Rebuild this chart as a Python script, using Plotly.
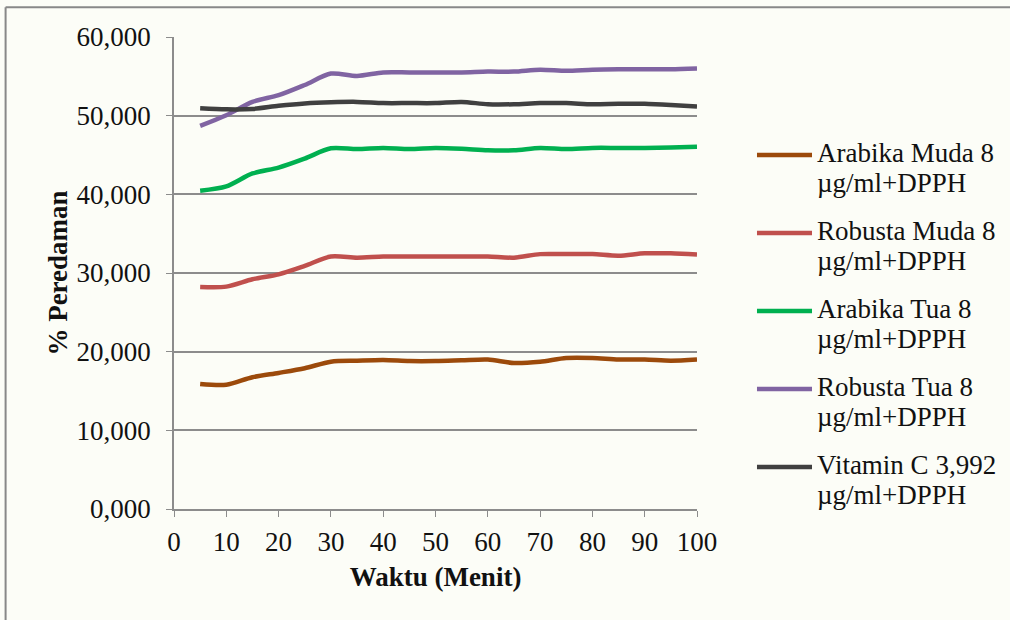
import plotly.graph_objects as go

# Time points (minutes)
waktu = [5, 10, 15, 20, 25, 30, 35, 40, 45, 50, 55, 60, 65, 70, 75, 80, 85, 90, 95, 100]

# % inhibition per sample
arabika_muda = [15.90, 15.80, 16.75, 17.30, 17.90, 18.73, 18.85, 18.94, 18.80, 18.80,
                18.90, 19.00, 18.56, 18.73, 19.20, 19.20, 19.00, 19.00, 18.85, 19.00]
robusta_muda = [28.23, 28.27, 29.20, 29.83, 30.90, 32.10, 31.95, 32.10, 32.10, 32.10,
                32.10, 32.10, 31.95, 32.40, 32.40, 32.40, 32.20, 32.50, 32.50, 32.35]
arabika_tua = [40.45, 41.00, 42.65, 43.40, 44.55, 45.85, 45.75, 45.90, 45.75, 45.90,
               45.80, 45.60, 45.60, 45.90, 45.75, 45.90, 45.90, 45.90, 45.95, 46.05]
robusta_tua = [48.70, 50.05, 51.75, 52.60, 53.90, 55.35, 55.05, 55.50, 55.50, 55.50,
               55.50, 55.60, 55.60, 55.85, 55.70, 55.85, 55.90, 55.90, 55.90, 56.00]
vitamin_c = [50.95, 50.80, 50.85, 51.25, 51.55, 51.70, 51.75, 51.60, 51.60, 51.60,
             51.75, 51.45, 51.45, 51.60, 51.60, 51.45, 51.50, 51.50, 51.35, 51.15]

series_names = [
    "Arabika Muda 8<br>µg/ml+DPPH",
    "Robusta Muda 8<br>µg/ml+DPPH",
    "Arabika Tua 8<br>µg/ml+DPPH",
    "Robusta Tua 8<br>µg/ml+DPPH",
    "Vitamin C 3,992<br>µg/ml+DPPH",
]
series_values = [arabika_muda, robusta_muda, arabika_tua, robusta_tua, vitamin_c]
series_colors = ["#9C4A0B", "#C0504D", "#00B050", "#8064A2", "#404040"]

x_ticks = [0, 10, 20, 30, 40, 50, 60, 70, 80, 90, 100]
y_ticks = [0, 10, 20, 30, 40, 50, 60]

FONT = "Liberation Serif, Times New Roman, serif"
FS = 27
BG = "#FCFDF7"
GRID = "#8C8C8C"
TEXT = "#111111"

fig = go.Figure()
for name, vals, col in zip(series_names, series_values, series_colors):
    fig.add_trace(go.Scatter(
        x=waktu, y=vals, name=name, mode="lines",
        line=dict(color=col, width=4.5, shape="spline", smoothing=0.8),
        showlegend=False,
    ))

# Legend at the right: colour sample line + two-line label
leg_top = 0.75
leg_step = 0.1653
line_gap = 0.0636
for i, (name, col) in enumerate(zip(series_names, series_colors)):
    yp = leg_top - i * leg_step
    fig.add_shape(type="line", xref="paper", yref="paper",
                  x0=1.1147, x1=1.2199, y0=yp, y1=yp,
                  line=dict(color=col, width=4.5))
    for j, part in enumerate(name.split("<br>")):
        fig.add_annotation(xref="paper", yref="paper", x=1.2256, y=yp + 0.004 - j * line_gap,
                           text=part, showarrow=False, xanchor="left", yanchor="middle",
                           align="left", font=dict(family=FONT, size=FS, color=TEXT))

# Outer frame (top and left edges)
fig.add_shape(type="line", xref="paper", yref="paper", x0=-0.322, x1=1.7,
              y0=1.063, y1=1.063, line=dict(color="#888888", width=2))
fig.add_shape(type="line", xref="paper", yref="paper", x0=-0.322, x1=-0.322,
              y0=1.063, y1=-0.3, line=dict(color="#888888", width=2))

fig.update_layout(
    width=1010, height=620,
    margin=dict(l=174, r=313, t=37, b=111),
    paper_bgcolor=BG, plot_bgcolor=BG,
    separators=",.",
    font=dict(family=FONT, size=FS, color=TEXT),
)

fig.update_xaxes(
    range=[0, 100], tickvals=x_ticks, ticks="outside", ticklen=6, tickcolor=GRID,
    showline=True, linecolor=GRID, linewidth=1.5, showgrid=False, zeroline=False,
    ticklabelstandoff=2,
    title=dict(text="<b>Waktu (Menit)</b>", font=dict(family=FONT, size=FS), standoff=11),
    tickfont=dict(family=FONT, size=FS, color=TEXT),
)
fig.update_yaxes(
    range=[0, 60], tickvals=y_ticks, tickformat=".3f", ticks="outside", ticklen=6,
    tickcolor=GRID, showline=True, linecolor=GRID, linewidth=1.5,
    showgrid=True, gridcolor=GRID, gridwidth=1.5, zeroline=False,
    ticklabelstandoff=10,
    title=dict(text="<b>% Peredaman</b>", font=dict(family=FONT, size=FS), standoff=1),
    tickfont=dict(family=FONT, size=FS, color=TEXT),
)

fig.write_html("out.html")
